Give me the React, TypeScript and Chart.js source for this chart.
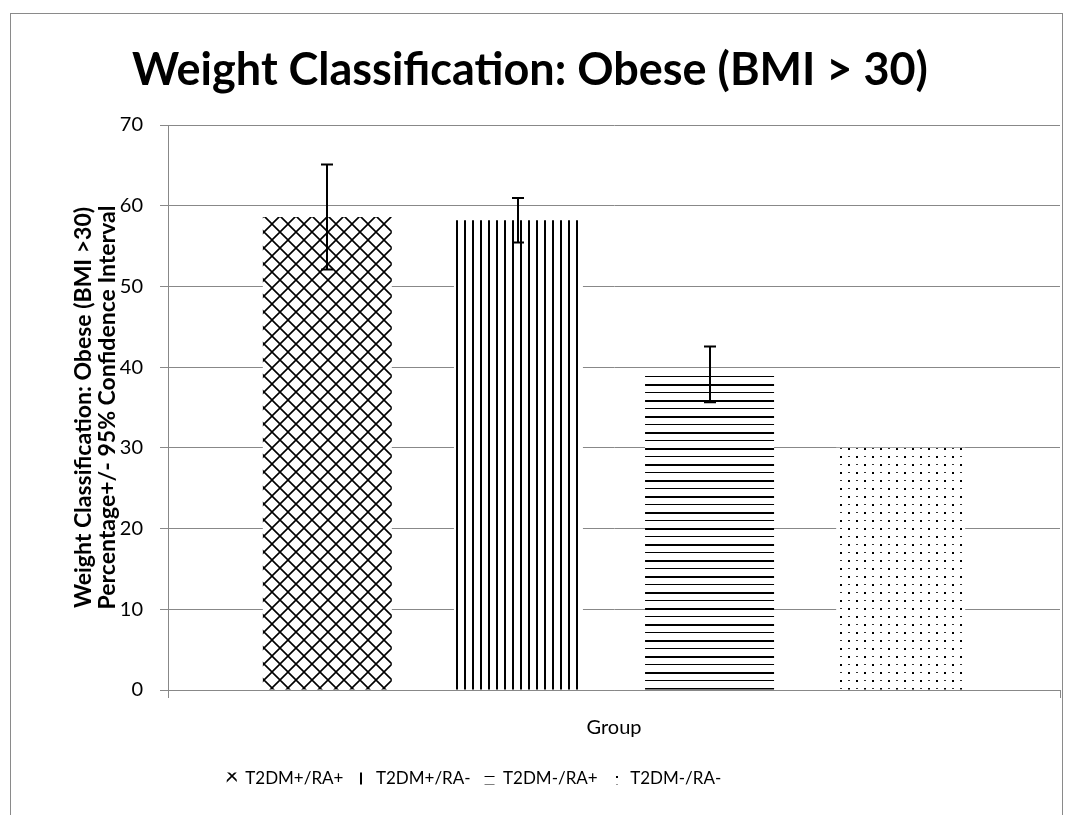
import React, { useEffect, useRef } from "react";
import { Chart, registerables } from "chart.js";

Chart.register(...registerables);

// ---- data ----
const categories = [""];
const seriesLabels = ["T2DM+/RA+", "T2DM+/RA-", "T2DM-/RA+", "T2DM-/RA-"];
const seriesValues = [58.6, 58.2, 39.1, 30.0];
const seriesErrors = [6.5, 2.75, 3.45, 0];
const yMin = 0;
const yMax = 70;
const yStep = 10;
const chartTitle = "Weight Classification: Obese (BMI > 30)";
const yAxisTitle = [
  "Weight Classification: Obese (BMI >30)",
  "Percentage+/- 95% Confidence Interval",
];
const xAxisTitle = "Group";
const patternKinds = ["diamond", "vertical", "horizontal", "dots"];

const FONT = "Lato, 'Open Sans', 'Liberation Sans', sans-serif";
const GRID = "#888888";

function makePattern(ctx: CanvasRenderingContext2D, kind: string): CanvasPattern | string {
  const tile = document.createElement("canvas");
  const t = tile.getContext("2d")!;
  if (kind === "diamond") {
    tile.width = 16;
    tile.height = 16;
    t.fillStyle = "#fff";
    t.fillRect(0, 0, 16, 16);
    t.strokeStyle = "#000";
    t.lineWidth = 1.6;
    t.beginPath();
    t.moveTo(0, 0);
    t.lineTo(16, 16);
    t.moveTo(16, 0);
    t.lineTo(0, 16);
    t.stroke();
  } else if (kind === "vertical") {
    tile.width = 8;
    tile.height = 8;
    t.fillStyle = "#fff";
    t.fillRect(0, 0, 8, 8);
    t.fillStyle = "#000";
    t.fillRect(0, 0, 2, 8);
  } else if (kind === "horizontal") {
    tile.width = 8;
    tile.height = 16;
    t.fillStyle = "#fff";
    t.fillRect(0, 0, 8, 16);
    t.fillStyle = "#000";
    t.fillRect(0, 0, 8, 2);
    t.fillRect(0, 8, 8, 1);
  } else {
    tile.width = 16;
    tile.height = 16;
    t.fillStyle = "#fff";
    t.fillRect(0, 0, 16, 16);
    t.fillStyle = "#000";
    t.fillRect(0, 0, 2, 2);
    t.fillRect(8, 8, 2, 2);
    t.fillStyle = "#333";
    t.fillRect(8, 0, 2, 1);
    t.fillRect(0, 8, 2, 1);
  }
  return ctx.createPattern(tile, "repeat") || "#000";
}

const errorBarPlugin = {
  id: "errorBars",
  afterDatasetsDraw(chart: any) {
    const ctx = chart.ctx;
    const y = chart.scales.y;
    ctx.save();
    ctx.strokeStyle = "#000";
    ctx.lineWidth = 2;
    chart.data.datasets.forEach((ds: any, i: number) => {
      const err = seriesErrors[i];
      if (!err) return;
      const meta = chart.getDatasetMeta(i);
      const bar = meta.data[0];
      if (!bar) return;
      const x = Math.round(bar.x);
      const top = y.getPixelForValue(seriesValues[i] + err);
      const bot = y.getPixelForValue(seriesValues[i] - err);
      ctx.beginPath();
      ctx.moveTo(x, top);
      ctx.lineTo(x, bot);
      ctx.moveTo(x - 6, top);
      ctx.lineTo(x + 6, top);
      ctx.moveTo(x - 6, bot);
      ctx.lineTo(x + 6, bot);
      ctx.stroke();
    });
    ctx.restore();
  },
};

const framePlugin = {
  id: "frame",
  afterLayout(chart: any) {
    // legend sits left of centre in the reference
    if (chart.legend) {
      chart.legend.right -= 112;
    }
  },
  beforeDraw(chart: any) {
    const ctx = chart.ctx;
    ctx.save();
    ctx.fillStyle = "#fff";
    ctx.fillRect(0, 0, chart.width, chart.height);
    ctx.strokeStyle = "#8a8a8a";
    ctx.lineWidth = 1;
    ctx.strokeRect(10.5, 13.5, 1052, 900);
    ctx.restore();
  },
};

export default function App() {
  const ref = useRef<HTMLCanvasElement>(null);

  useEffect(() => {
    const canvas = ref.current!;
    const ctx = canvas.getContext("2d")!;
    const chart = new Chart(ctx, {
      type: "bar",
      data: {
        labels: categories,
        datasets: seriesLabels.map((label, i) => ({
          label,
          data: [seriesValues[i]],
          backgroundColor: makePattern(ctx, patternKinds[i]),
          borderWidth: 0,
          categoryPercentage: 0.857,
          barPercentage: 0.675,
        })),
      },
      options: {
        animation: false,
        responsive: false,
        devicePixelRatio: 1,
        layout: { padding: { left: 0, right: 15, top: 0, bottom: 18 } },
        plugins: {
          title: {
            display: true,
            text: chartTitle,
            color: "#000",
            font: { family: FONT, size: 45, weight: "bold" },
            padding: { top: 43, bottom: 28 },
          },
          legend: {
            display: true,
            position: "bottom",
            labels: {
              color: "#000",
              font: { family: FONT, size: 17 },
              boxWidth: 10,
              boxHeight: 12,
              padding: 14,
            },
          },
          tooltip: { enabled: false },
        },
        scales: {
          x: {
            grid: {
              display: true,
              drawOnChartArea: false,
              drawTicks: true,
              tickLength: 8,
              color: GRID,
              lineWidth: 1,
            },
            border: { display: true, color: GRID, width: 1 },
            ticks: { display: true, font: { family: FONT, size: 18 } },
            title: {
              display: true,
              text: xAxisTitle,
              color: "#000",
              font: { family: FONT, size: 20 },
              padding: { top: 0, bottom: 16 },
            },
            afterFit(scale: any) {
              scale.height = 66;
            },
          },
          y: {
            min: yMin,
            max: yMax,
            ticks: {
              stepSize: yStep,
              color: "#000",
              font: { family: FONT, size: 20 },
              padding: 17,
            },
            grid: {
              color: GRID,
              lineWidth: 1,
              drawTicks: true,
              tickLength: 8,
            },
            border: { display: true, color: GRID, width: 1 },
            title: {
              display: true,
              text: yAxisTitle,
              color: "#000",
              font: { family: FONT, size: 23, weight: "bold", lineHeight: 1.04 },
              padding: { top: 72, bottom: 0 },
            },
            afterFit(scale: any) {
              scale.width = 168;
            },
          },
        },
      },
      plugins: [framePlugin, errorBarPlugin],
    });
    return () => chart.destroy();
  }, []);

  return (
    <div style={{ position: "fixed", left: 0, top: 0, width: 1075, height: 815, background: "#fff" }}>
      <canvas ref={ref} width={1075} height={815} style={{ display: "block", width: 1075, height: 815 }} />
    </div>
  );
}
